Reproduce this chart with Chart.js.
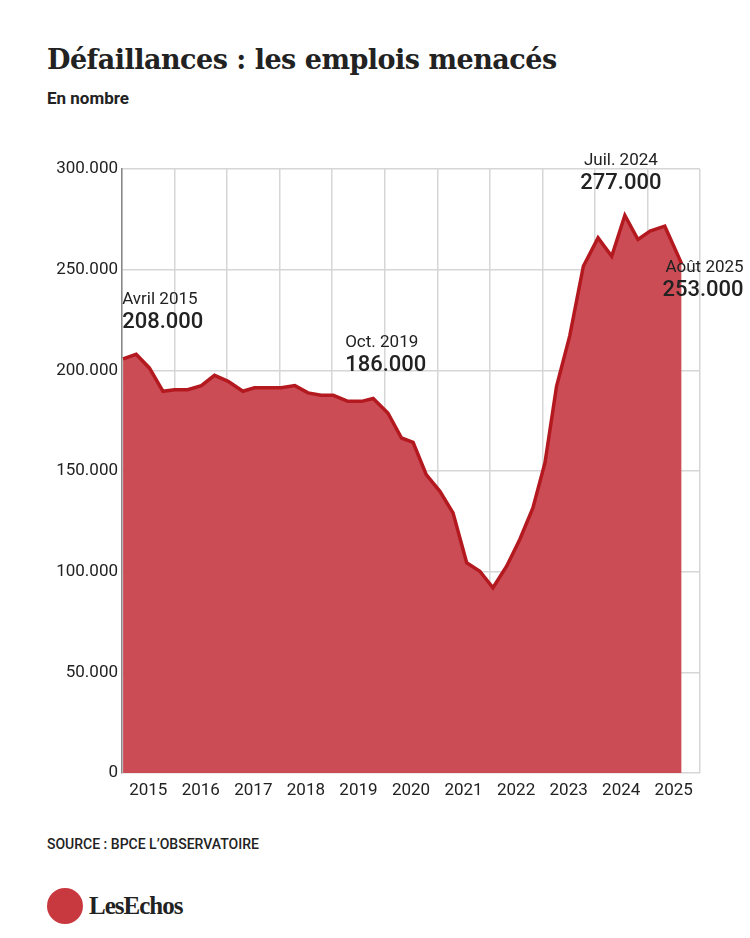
<!DOCTYPE html>
<html><head><meta charset="utf-8">
<script src="https://cdn.jsdelivr.net/npm/chart.js@4"></script>
<style>
body{margin:0;width:750px;height:938px;background:#fff;font-family:Roboto,"Noto Sans",sans-serif;position:relative;overflow:hidden}
h1{position:absolute;left:47px;top:44px;margin:0;font:bold 27px "DejaVu Serif",serif;color:#222;letter-spacing:-0.5px}
.sub{position:absolute;left:47px;top:88px;font:bold 17px Roboto,sans-serif;color:#222}
.src{position:absolute;left:47px;top:836px;font:500 14px Roboto,sans-serif;color:#222}
.logo{position:absolute;left:47px;top:888px;display:flex;align-items:center}
.logo .c{width:36px;height:36px;border-radius:50%;background:#c8393f}
.logo span{font:bold 25px "Liberation Serif",serif;color:#222;margin-left:6px;letter-spacing:-1px}
#wrap{position:absolute;left:0;top:150px;width:750px;height:680px}
</style></head><body>
<h1>Défaillances : les emplois menacés</h1>
<div class="sub">En nombre</div>
<div id="wrap"><canvas id="c"></canvas></div>
<div class="src">SOURCE : BPCE L’OBSERVATOIRE</div>
<div class="logo"><div class="c"></div><span>LesEchos</span></div>
<script>
const periods = [2015.02,2015.27,2015.52,2015.78,2016.0,2016.25,2016.51,2016.76,2017.02,2017.30,2017.52,2017.78,2018.03,2018.29,2018.54,2018.79,2019.02,2019.30,2019.56,2019.78,2020.06,2020.32,2020.54,2020.79,2021.05,2021.30,2021.56,2021.81,2022.06,2022.32,2022.57,2022.82,2023.05,2023.27,2023.52,2023.78,2024.06,2024.32,2024.57,2024.82,2025.05,2025.33,2025.65];
const jobs = [205700,208000,201200,189600,190400,190400,192400,197500,194500,189600,191300,191300,191300,192400,188800,187600,187600,184600,184600,186000,178800,166400,164200,148200,139900,129200,104400,100200,92000,102700,116000,131700,154100,192100,217000,251700,265800,256700,277000,265000,269200,271600,253000];
const yTicks = [0,50000,100000,150000,200000,250000,300000];
const years = [2015,2016,2017,2018,2019,2020,2021,2022,2023,2024,2025];
const notes = [
  {i:1, l1:'Avril 2015', l2:'208.000', dx:-14, dy:-50, align:'left'},
  {i:19, l1:'Oct. 2019', l2:'186.000', dx:-28, dy:-52, align:'left'},
  {i:38, l1:'Juil. 2024', l2:'277.000', dx:-4, dy:-50, align:'center'},
  {i:42, l1:'Août 2025', l2:'253.000', dx:62, dy:8, align:'right'}
];
const fmt = v => v.toLocaleString('de-DE');

const notePlugin = {
  id:'notes',
  afterDatasetsDraw(chart){
    const ctx = chart.ctx, xs = chart.scales.x, ys = chart.scales.y;
    ctx.save();
    ctx.fillStyle = '#222';
    notes.forEach(n => {
      const x = xs.getPixelForValue(periods[n.i]) + n.dx;
      const y = ys.getPixelForValue(jobs[n.i]) + n.dy;
      ctx.textAlign = n.align; ctx.textBaseline = 'alphabetic';
      ctx.font = '17px Roboto, sans-serif';
      ctx.fillText(n.l1, x, y);
      ctx.font = '500 22px Roboto, sans-serif';
      ctx.fillText(n.l2, x, y + 24);
    });
    ctx.restore();
  }
};

new Chart(document.getElementById('c'), {
  type:'line',
  data:{datasets:[{
    data: periods.map((p,i)=>({x:p,y:jobs[i]})),
    borderColor:'#b3191f', borderWidth:3.5, backgroundColor:'#cb4c55',
    fill:'origin', pointRadius:0, tension:0
  }]},
  options:{
    responsive:true, maintainAspectRatio:false, animation:false,
    layout:{padding:{top:19,right:50,left:0,bottom:0}},
    plugins:{legend:{display:false},tooltip:{enabled:false}},
    scales:{
      x:{type:'linear',min:2015,max:2026,
        afterBuildTicks(s){const t=[];years.forEach(y=>{t.push({value:y});t.push({value:y+0.5});});t.push({value:2026});s.ticks=t;},
        afterFit(s){s.height=57;},
        grid:{color:c=>Number.isInteger(c.tick.value)?'#d6d6d6':'transparent',drawTicks:false,lineWidth:1.5},
        border:{display:false},
        ticks:{padding:8,maxRotation:0,autoSkip:false,color:'#222',font:{size:17,family:'Roboto'},
          callback:v=>Number.isInteger(v)?'':String(Math.floor(v))}
      },
      y:{min:0,max:300000,
        afterBuildTicks(s){s.ticks=yTicks.map(v=>({value:v}));},
        afterFit(s){s.width=122;},
        grid:{color:'#d6d6d6',drawTicks:false,lineWidth:1.5},
        border:{display:true,color:'#888',width:1.5},
        ticks:{padding:4,color:'#222',font:{size:17,family:'Roboto'},callback:v=>fmt(v)}
      }
    }
  },
  plugins:[notePlugin]
});
</script>
</body></html>
